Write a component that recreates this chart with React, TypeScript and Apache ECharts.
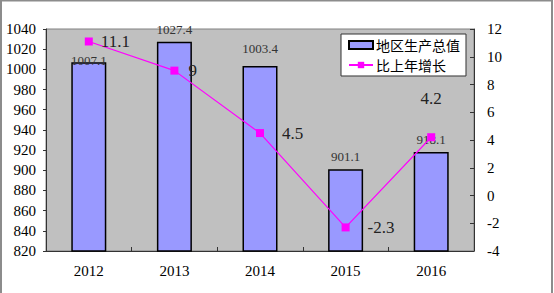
import React, { useEffect, useRef } from "react";
import * as echarts from "echarts";

const categories = ["2012", "2013", "2014", "2015", "2016"];
const gdpValues = [1007.1, 1027.4, 1003.4, 901.1, 918.1];
const growthValues = [11.1, 9, 4.5, -2.3, 4.2];
const gdpName = "地区生产总值";
const growthName = "比上年增长";

const serif = "Liberation Serif";

export default function App() {
  const ref = useRef<HTMLDivElement>(null);
  useEffect(() => {
    const chart = echarts.init(ref.current!, null, { renderer: "svg" });

    const barLabelOffsets = [[0, 11], [0, 0], [0, -5], [0, 0], [0, 0]];
    const lineLabelCfg = [
      { position: "right", distance: 8 },
      { position: "right", distance: 10 },
      { position: "right", distance: 18 },
      { position: "right", distance: 18 },
      { position: "top", distance: 26 },
    ];

    const barLabelStyle = { fontFamily: serif, fontSize: 13, color: "#333" };
    const lineLabelStyle = { fontFamily: serif, fontSize: 17, color: "#222" };

    const barData = gdpValues.map((v, i) => ({
      value: v,
      label: { show: true, position: "top", distance: 6, ...barLabelStyle, offset: barLabelOffsets[i] },
    }));
    const lineData = growthValues.map((v, i) => ({
      value: v,
      label: { show: true, ...lineLabelStyle, ...lineLabelCfg[i] },
    }));

    chart.setOption({
      animation: false,
      backgroundColor: "#ffffff",
      graphic: [
        {
          type: "rect",
          shape: { x: 1, y: 0.5, width: 551, height: 300 },
          style: { fill: "none", stroke: "#8c8c8c", lineWidth: 2 },
          silent: true,
        },
      ],
      grid: {
        left: 46,
        top: 29,
        width: 428,
        height: 222,
        show: true,
        backgroundColor: "#C0C0C0",
        borderColor: "#808080",
        borderWidth: 1,
      },
      legend: {
        orient: "vertical",
        left: 341,
        top: 34,
        backgroundColor: "#ffffff",
        borderColor: "#333333",
        borderWidth: 1,
        borderRadius: 0,
        padding: [4, 6, 4, 7],
        itemGap: 6,
        itemWidth: 24,
        itemHeight: 8,
        textStyle: {
          fontFamily: "Noto Sans CJK SC",
          fontSize: 14,
          color: "#000",
          padding: [0, 0, 0, -2],
        },
        data: [
          { name: gdpName, icon: "rect" },
          { name: growthName },
        ],
      },
      xAxis: {
        type: "category",
        data: categories,
        boundaryGap: true,
        axisLine: { show: true, onZero: false, lineStyle: { color: "#333", width: 1 } },
        axisTick: { show: true, inside: true, length: 4, lineStyle: { color: "#333" } },
        axisLabel: {
          margin: 12,
          fontFamily: serif,
          fontSize: 15,
          color: "#000",
        },
        splitLine: { show: false },
      },
      yAxis: [
        {
          type: "value",
          min: 820,
          max: 1040,
          interval: 20,
          axisLine: { show: true, lineStyle: { color: "#333", width: 1 } },
          axisTick: { show: true, inside: false, length: 3, lineStyle: { color: "#333" } },
          axisLabel: {
            margin: 10,
            fontFamily: serif,
            fontSize: 15,
            color: "#000",
            formatter: (v: number) => String(v),
          },
          splitLine: { show: false },
        },
        {
          type: "value",
          min: -4,
          max: 12,
          interval: 2,
          position: "right",
          axisLine: { show: true, lineStyle: { color: "#333", width: 1 } },
          axisTick: { show: true, inside: true, length: 4, lineStyle: { color: "#333" } },
          axisLabel: {
            margin: 13,
            fontFamily: serif,
            fontSize: 15,
            color: "#000",
            formatter: (v: number) => String(v),
          },
          splitLine: { show: false },
        },
      ],
      series: [
        {
          name: gdpName,
          type: "bar",
          yAxisIndex: 0,
          data: barData,
          barWidth: 35,
          itemStyle: { color: "#9999FF", borderColor: "#000", borderWidth: 1.5 },
          label: { show: true, position: "top", distance: 6, ...barLabelStyle },
          z: 2,
        },
        {
          name: growthName,
          type: "line",
          yAxisIndex: 1,
          data: lineData,
          symbol: "rect",
          symbolSize: 8,
          lineStyle: { color: "#FF00FF", width: 1.2 },
          itemStyle: { color: "#FF00FF" },
          label: { show: true, ...lineLabelStyle },
          z: 3,
        },
      ],
    });
    return () => chart.dispose();
  }, []);

  return (
    <div
      ref={ref}
      style={{ position: "fixed", left: 0, top: 0, width: 554, height: 293 }}
    />
  );
}
